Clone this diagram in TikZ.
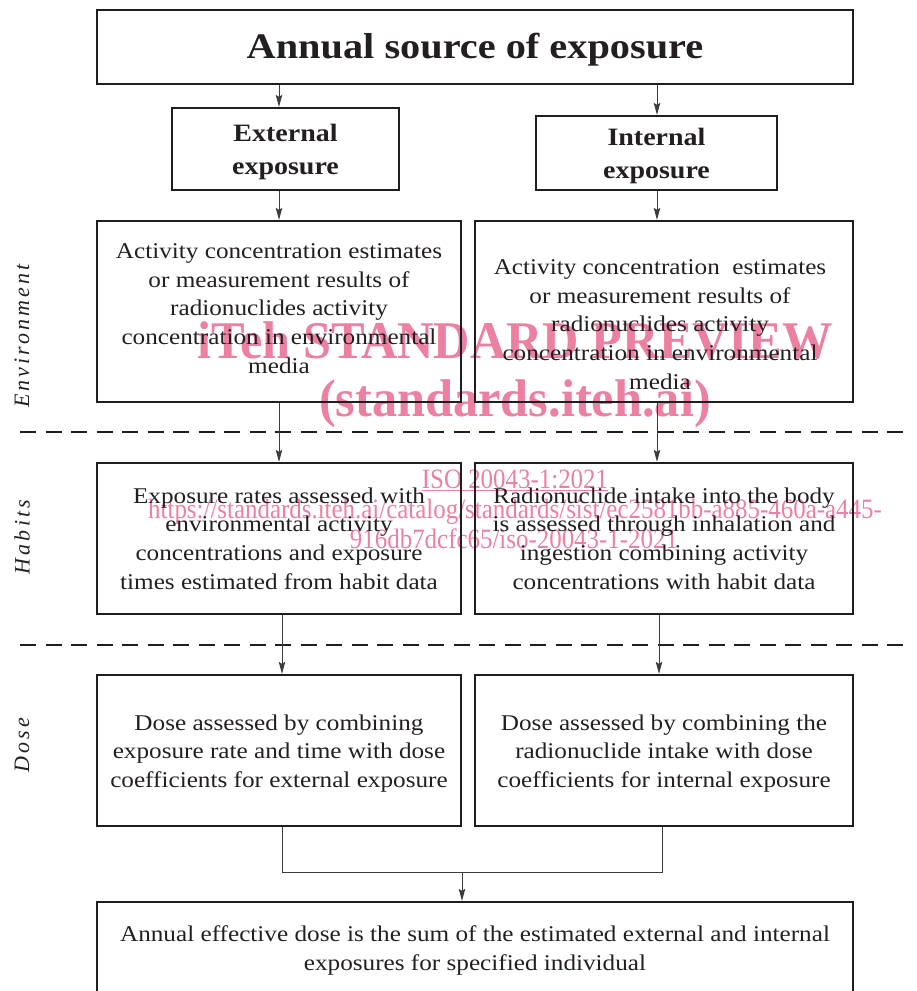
\documentclass[tikz,border=0pt]{standalone}
\usepackage{fontspec}
\setmainfont[FakeStretch=1.12]{Liberation Serif}
\newfontfamily\wmfont[FakeStretch=0.89]{Liberation Serif}
\newfontfamily\wmbig[FakeStretch=0.95]{Liberation Serif}
\newfontfamily\sidefont[LetterSpace=14]{Liberation Serif}
\usetikzlibrary{arrows.meta}
\definecolor{wm}{RGB}{236,128,160}
\definecolor{arr}{RGB}{60,60,60}
\definecolor{bx}{RGB}{30,30,30}
\definecolor{tx}{RGB}{35,31,32}
\begin{document}
\begin{tikzpicture}[x=1pt,y=-1pt,
  box/.style={draw=bx,line width=2.3pt,inner sep=0pt},
  lbl/.style={text=tx,align=center,inner sep=0pt,font=\fontsize{22.5}{28.8}\selectfont},
  hlbl/.style={lbl,font=\bfseries\fontsize{25}{33}\selectfont},
  arw/.style={draw=arr,line width=0.9pt,-{Stealth[length=12pt,width=6.5pt,inset=2pt]}},
  con/.style={draw=arr,line width=0.9pt},
  sep/.style={draw=bx,line width=1.3pt,dash pattern=on 16pt off 9.5pt},
  side/.style={rotate=90,text=tx,font=\sidefont\itshape\fontsize{22}{22}\selectfont},
  wmt/.style={text=wm,inner sep=0pt,anchor=base}]
\useasboundingbox (0,0) rectangle (917,991);
\clip (0,0) rectangle (917,991);
% watermark
\node[wmt,font=\wmbig\bfseries\fontsize{53}{53}\selectfont] (wm1) at (515,358) {iTeh STANDARD PREVIEW};
\node[wmt,font=\wmbig\bfseries\fontsize{53}{53}\selectfont] (wm2) at (515,416) {(standards.iteh.ai)};
\node[wmt,font=\wmfont\fontsize{28}{28}\selectfont] (wm3) at (515,488) {\underline{ISO 20043-1:2021}};
\node[wmt,font=\wmfont\fontsize{28}{28}\selectfont] (wm4) at (515,518) {https://standards.iteh.ai/catalog/standards/sist/ec2581bb-a885-460a-a445-};
\node[wmt,font=\wmfont\fontsize{28}{28}\selectfont] (wm5) at (514,548) {916db7dcfc65/iso-20043-1-2021};
% coordinates for connector columns
\coordinate (cA) at (279,0);
\coordinate (cB) at (657,0);
\coordinate (cC) at (282,0);
\coordinate (cD) at (659,0);
\coordinate (cE) at (662,0);
% boxes
\node[box,minimum width=756pt,minimum height=74pt] (top) at (475,47) {};
\node[box,minimum width=227pt,minimum height=82pt] (ext) at (285.5,149) {};
\node[box,minimum width=241pt,minimum height=74pt] (int) at (656.5,153) {};
\node[box,minimum width=364pt,minimum height=181pt] (env1) at (279,311.5) {};
\node[box,minimum width=378pt,minimum height=181pt] (env2) at (664,311.5) {};
\node[box,minimum width=364pt,minimum height=151pt] (hab1) at (279,538.5) {};
\node[box,minimum width=378pt,minimum height=151pt] (hab2) at (664,538.5) {};
\node[box,minimum width=364pt,minimum height=151pt] (dose1) at (279,750.5) {};
\node[box,minimum width=378pt,minimum height=151pt] (dose2) at (664,750.5) {};
\node[box,minimum width=756pt,minimum height=92pt] (fin) at (475,948) {};
% texts
\node[lbl,font=\bfseries\fontsize{36}{36}\selectfont] (topt) at ([yshift=-3pt]top.center) {Annual source of exposure};
\node[hlbl] (extt) at ([yshift=-3pt]ext.center) {External\\exposure};
\node[hlbl] (intt) at ([yshift=-3pt]int.center) {Internal\\exposure};
\node[lbl] (env1t) at ([yshift=3pt]env1.center) {Activity concentration estimates\\or measurement results of\\radionuclides activity\\concentration in environmental\\media};
\node[lbl] (env2t) at ([xshift=-4pt,yshift=-13pt]env2.center) {Activity concentration\ \ estimates\\or measurement results of\\radionuclides activity\\concentration in environmental\\media};
\node[lbl] (hab1t) at (hab1.center) {Exposure rates assessed with\\environmental activity\\concentrations and exposure\\times estimated from habit data};
\node[lbl] (hab2t) at (hab2.center) {Radionuclide intake into the body\\is assessed through inhalation and\\ingestion combining activity\\concentrations with habit data};
\node[lbl] (dose1t) at ([yshift=-3pt]dose1.center) {Dose assessed by combining\\exposure rate and time with dose\\coefficients for external exposure};
\node[lbl] (dose2t) at ([yshift=-3pt]dose2.center) {Dose assessed by combining the\\radionuclide intake with dose\\coefficients for internal exposure};
\node[lbl] (fint) at ([yshift=-2.5pt]fin.center) {Annual effective dose is the sum of the estimated external and internal\\exposures for specified individual};
% side labels
\node[side] (lenv) at (22,336) {Environment};
\node[side] (lhab) at (22,537) {Habits};
\node[side] (ldose) at (22,745) {Dose};
% separators
\draw[sep] (20,432) -- (905,432);
\draw[sep] (20,645) -- (905,645);
% connectors
\draw[arw] (top.south -| cA) -- (ext.north -| cA);
\draw[arw] (top.south -| cB) -- (int.north -| cB);
\draw[arw] (ext.south -| cA) -- (env1.north -| cA);
\draw[arw] (int.south -| cB) -- (env2.north -| cB);
\draw[arw] (env1.south -| cA) -- (hab1.north -| cA);
\draw[arw] (env2.south -| cB) -- (hab2.north -| cB);
\draw[arw] (hab1.south -| cC) -- (dose1.north -| cC);
\draw[arw] (hab2.south -| cD) -- (dose2.north -| cD);
\coordinate (join) at (462,872);
\draw[con] (dose1.south -| cC) |- (join);
\draw[con] (dose2.south -| cE) |- (join);
\draw[arw] (join) -- (fin.north -| join);
\end{tikzpicture}
\end{document}
